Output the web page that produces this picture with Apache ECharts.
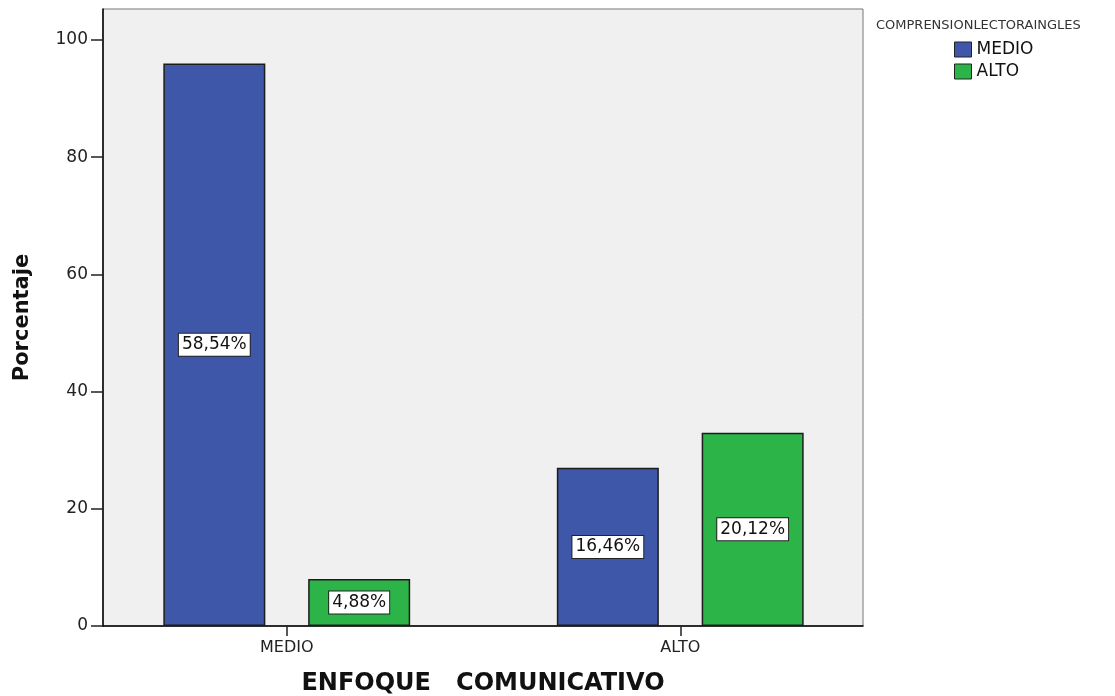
<!DOCTYPE html>
<html>
<head>
<meta charset="utf-8">
<script src="https://cdn.jsdelivr.net/npm/echarts@6/dist/echarts.min.js"></script>
<style>
  html, body { margin: 0; padding: 0; background: #fff; }
  #chart { width: 1115px; height: 696px; }
</style>
</head>
<body>
<div id="chart"></div>
<script>
// Enfoque comunicativo x Comprensión lectora en inglés (recuentos)
const categories = ['MEDIO', 'ALTO'];
const seriesNames = ['MEDIO', 'ALTO'];
const countsMedio = [96, 27];
const countsAlto = [8, 33];
const yTicks = [0, 20, 40, 60, 80, 100];

const total = countsMedio.concat(countsAlto).reduce((a, b) => a + b, 0);
const pctLabel = p => (p.value / total * 100).toFixed(2).replace('.', ',') + '%';

const FONT = 'DejaVu Sans';
const YMAX = 105.3;

const labelStyle = {
  show: true,
  position: 'inside',
  formatter: pctLabel,
  fontFamily: FONT,
  fontSize: 17,
  color: '#111',
  backgroundColor: '#ffffff',
  borderColor: '#222',
  borderWidth: 1,
  padding: [3, 3, 1, 3],
  lineHeight: 18
};

const chart = echarts.init(document.getElementById('chart'), null, { renderer: 'canvas' });
chart.setOption({
  animation: false,
  backgroundColor: '#ffffff',
  title: {
    text: 'COMPRENSIONLECTORAINGLES',
    left: 876,
    top: 19,
    padding: 0,
    textStyle: { fontFamily: FONT, fontSize: 13, fontWeight: 'normal', color: '#333' }
  },
  legend: {
    data: seriesNames,
    orient: 'vertical',
    left: 954,
    top: 41,
    padding: 0,
    icon: 'rect',
    itemWidth: 17,
    itemHeight: 15,
    itemGap: 5,
    itemStyle: { borderColor: '#222', borderWidth: 1 },
    textStyle: { fontFamily: FONT, fontSize: 17, color: '#111', padding: [0, 0, 0, 0], lineHeight: 16 }
  },
  grid: [
    // plot frame with the visible value axis
    { left: 103, right: 252, top: 9, bottom: 70, outerBoundsMode: 'none', containLabel: false,
      show: true, backgroundColor: '#f0f0f0', borderColor: '#777', borderWidth: 1 },
    // bar layout grid
    { left: 90, right: 238, top: 9, bottom: 70, outerBoundsMode: 'none', containLabel: false }
  ],
  xAxis: [
    {
      gridIndex: 0, type: 'value', min: 0, max: 1,
      axisLine: { show: true, lineStyle: { color: '#000', width: 1.5 } },
      axisTick: { show: false }, axisLabel: { show: false }, splitLine: { show: false },
      name: 'ENFOQUE   COMUNICATIVO',
      nameLocation: 'middle',
      nameGap: 46,
      nameTextStyle: { fontFamily: FONT, fontSize: 24, fontWeight: 'bold', color: '#111' }
    },
    {
      gridIndex: 1, type: 'category', data: categories,
      axisLine: { show: false },
      axisTick: { show: true, alignWithLabel: true, length: 10, lineStyle: { color: '#222', width: 1.5 } },
      axisLabel: { fontFamily: FONT, fontSize: 16, color: '#222', margin: 14 },
      splitLine: { show: false }
    }
  ],
  yAxis: [
    {
      gridIndex: 0, type: 'value', min: 0, max: YMAX, interval: 20,
      axisLine: { show: true, lineStyle: { color: '#000', width: 1.5 } },
      axisTick: { show: true, length: 12, lineStyle: { color: '#222', width: 1.5 },
        customValues: yTicks },
      axisLabel: { fontFamily: FONT, fontSize: 17, color: '#222', margin: 15,
        customValues: yTicks },
      splitLine: { show: false },
      name: 'Porcentaje',
      nameLocation: 'middle',
      nameRotate: 90,
      nameGap: 70,
      nameTextStyle: { fontFamily: FONT, fontSize: 21, fontWeight: 'bold', color: '#111' }
    },
    {
      gridIndex: 1, type: 'value', min: 0, max: YMAX, show: false
    }
  ],
  series: [
    {
      name: seriesNames[0], type: 'bar', xAxisIndex: 1, yAxisIndex: 1,
      data: countsMedio, barWidth: 102, barGap: '42%',
      itemStyle: { color: '#3e57a9', borderColor: '#1c1c1c', borderWidth: 1.5 },
      label: labelStyle
    },
    {
      name: seriesNames[1], type: 'bar', xAxisIndex: 1, yAxisIndex: 1,
      data: countsAlto, barWidth: 102, barGap: '42%',
      itemStyle: { color: '#2db449', borderColor: '#1c1c1c', borderWidth: 1.5 },
      label: labelStyle
    }
  ]
});
</script>
</body>
</html>
